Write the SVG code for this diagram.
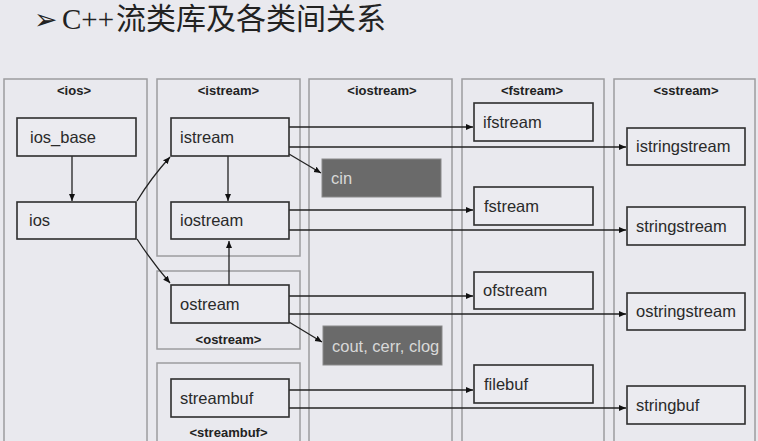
<svg xmlns="http://www.w3.org/2000/svg" width="758" height="441" viewBox="0 0 758 441">
<style>
.bg{fill:#e9e9ee}
.col{fill:none;stroke:#9c9c9f;stroke-width:1.5}
.node{fill:#ebebf0;stroke:#2e2e2e;stroke-width:1.6}
.dark{fill:#6a6a6a;stroke:#8a8a8a;stroke-width:1}
.t{font-family:"Liberation Sans",Arial,sans-serif;font-size:16.5px;fill:#2a2a2a}
.tw{font-family:"Liberation Sans",Arial,sans-serif;font-size:16.5px;fill:#d8d8d8}
.h{font-family:"Liberation Sans",Arial,sans-serif;font-size:13px;font-weight:bold;fill:#222;text-anchor:middle}
.c{fill:none;stroke:#222;stroke-width:1.3}
</style>
<defs>
<marker id="ah" markerWidth="8" markerHeight="8" refX="7" refY="4" orient="auto" markerUnits="userSpaceOnUse">
<path d="M0,1 L7,4 L0,7 Z" fill="#111"/>
</marker>
</defs>
<rect class="bg" x="0" y="0" width="758" height="441"/>
<g id="title">
<text x="34" y="29" font-family="'DejaVu Sans',sans-serif" font-size="28" fill="#222">➢</text>
<text x="62" y="29" font-family="'Liberation Serif','Times New Roman',serif" font-size="29" fill="#222">C++</text>
<text x="116" y="29" font-family="'Noto Sans CJK SC',sans-serif" font-size="30" fill="#222">流类库及各类间关系</text>
</g>
<g id="columns">
<rect class="col" x="4" y="79" width="143" height="370"/>
<text class="h" x="74" y="95">&lt;ios&gt;</text>
<rect class="col" x="157" y="79" width="143" height="177"/>
<text class="h" x="228.5" y="95">&lt;istream&gt;</text>
<rect class="col" x="157" y="271" width="143" height="78"/>
<text class="h" x="228.5" y="344">&lt;ostream&gt;</text>
<rect class="col" x="157" y="363" width="143" height="90"/>
<text class="h" x="228.5" y="437">&lt;streambuf&gt;</text>
<rect class="col" x="309" y="79" width="143" height="370"/>
<text class="h" x="382" y="95">&lt;iostream&gt;</text>
<rect class="col" x="462" y="79" width="142" height="370"/>
<text class="h" x="532" y="95">&lt;fstream&gt;</text>
<rect class="col" x="614" y="79" width="141" height="370"/>
<text class="h" x="686" y="95">&lt;sstream&gt;</text>
</g>
<g id="connectors">
<path class="c" d="M72,156 L72,201" marker-end="url(#ah)"/>
<path class="c" d="M228,156 L228,201" marker-end="url(#ah)"/>
<path class="c" d="M229,285 L229,241" marker-end="url(#ah)"/>
<path class="c" d="M137,201 Q151,178 170,157" marker-end="url(#ah)"/>
<path class="c" d="M137,239 Q152,262 170,283" marker-end="url(#ah)"/>
<path class="c" d="M289,127 L473,127" marker-end="url(#ah)"/>
<path class="c" d="M289,147 L626,147" marker-end="url(#ah)"/>
<path class="c" d="M289,154 L321,173" marker-end="url(#ah)"/>
<path class="c" d="M289,210 L473,210" marker-end="url(#ah)"/>
<path class="c" d="M289,230 L626,230" marker-end="url(#ah)"/>
<path class="c" d="M289,296 L473,296" marker-end="url(#ah)"/>
<path class="c" d="M289,314 L626,314" marker-end="url(#ah)"/>
<path class="c" d="M289,322 L322,342" marker-end="url(#ah)"/>
<path class="c" d="M289,390 L473,390" marker-end="url(#ah)"/>
<path class="c" d="M289,408 L626,408" marker-end="url(#ah)"/>
</g>
<g id="n_ios_base"><rect class="node" x="17" y="118" width="119" height="38"/><text class="t" x="30" y="143">ios_base</text></g>
<g id="n_ios"><rect class="node" x="17" y="202" width="119" height="37"/><text class="t" x="29" y="226">ios</text></g>
<g id="n_istream"><rect class="node" x="171" y="118" width="118" height="38"/><text class="t" x="180" y="143">istream</text></g>
<g id="n_iostream"><rect class="node" x="171" y="202" width="118" height="37"/><text class="t" x="180" y="226">iostream</text></g>
<g id="n_ostream"><rect class="node" x="171" y="285" width="118" height="38"/><text class="t" x="180" y="310">ostream</text></g>
<g id="n_streambuf"><rect class="node" x="171" y="379" width="118" height="38"/><text class="t" x="180" y="404">streambuf</text></g>
<g id="n_cin"><rect class="dark" x="322" y="159" width="119" height="38"/><text class="tw" x="331" y="184">cin</text></g>
<g id="n_cout"><rect class="dark" x="323" y="326" width="119" height="39"/><text class="tw" x="332" y="352">cout, cerr, clog</text></g>
<g id="n_ifstream"><rect class="node" x="474" y="103" width="119" height="38"/><text class="t" x="483" y="128">ifstream</text></g>
<g id="n_fstream"><rect class="node" x="474" y="187" width="119" height="38"/><text class="t" x="484" y="212">fstream</text></g>
<g id="n_ofstream"><rect class="node" x="474" y="272" width="119" height="37"/><text class="t" x="483" y="296">ofstream</text></g>
<g id="n_filebuf"><rect class="node" x="474" y="365" width="119" height="38"/><text class="t" x="484" y="390">filebuf</text></g>
<g id="n_istringstream"><rect class="node" x="627" y="128" width="118" height="37"/><text class="t" x="636" y="152">istringstream</text></g>
<g id="n_stringstream"><rect class="node" x="627" y="207" width="118" height="38"/><text class="t" x="636" y="232">stringstream</text></g>
<g id="n_ostringstream"><rect class="node" x="627" y="293" width="118" height="37"/><text class="t" x="636" y="317">ostringstream</text></g>
<g id="n_stringbuf"><rect class="node" x="627" y="386" width="118" height="38"/><text class="t" x="636" y="411">stringbuf</text></g>
</svg>
